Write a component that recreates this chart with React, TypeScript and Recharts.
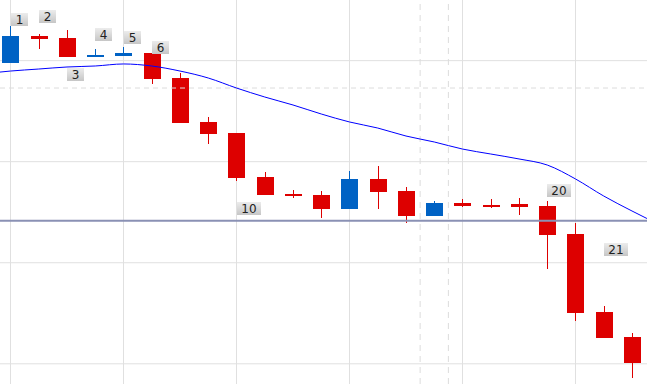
import React from 'react';
import { ComposedChart, Bar, Line, XAxis, YAxis, ReferenceLine, ReferenceDot, CartesianGrid } from 'recharts';

// candles, one per session, index 0..22
const opens = [129.77, 132.44, 132.24, 130.36, 130.46, 130.76, 128.28, 123.93, 122.84, 118.48, 116.8, 116.7, 115.32, 118.29, 117.1, 114.62, 115.91, 115.76, 115.81, 115.61, 112.84, 105.12, 102.65];
const highs = [133.43, 132.64, 133.03, 131.15, 131.35, 130.76, 128.78, 124.42, 122.84, 118.98, 117.2, 117.1, 119.08, 119.57, 117.49, 116.11, 116.31, 116.31, 116.41, 116.11, 113.93, 105.72, 103.05];
const lows = [129.77, 131.15, 130.36, 130.36, 130.46, 127.69, 123.83, 121.75, 118.09, 116.7, 116.41, 114.43, 115.32, 115.32, 113.93, 114.62, 115.52, 115.42, 114.72, 109.38, 104.23, 102.55, 98.59];
const closes = [132.44, 132.14, 130.36, 130.56, 130.76, 128.18, 123.83, 122.74, 118.39, 116.7, 116.6, 115.32, 118.29, 117.0, 114.62, 115.91, 115.61, 115.66, 115.52, 112.74, 105.03, 102.55, 100.08];

// moving average, index -1..23 (ends run off the visible area)
const maIndex = [-1, 0, 1, 2, 3, 4, 5, 6, 7, 8, 9, 10, 11, 12, 13, 14, 15, 16, 17, 18, 19, 20, 21, 22, 23];
const maValues = [128.68, 128.97, 129.17, 129.37, 129.47, 129.67, 129.47, 128.97, 128.28, 127.29, 126.4, 125.61, 124.72, 123.93, 123.33, 122.54, 121.95, 121.25, 120.76, 120.27, 119.67, 118.29, 116.6, 115.12, 113.73];

// numbered tags: index and price of their top-left corner
const tagTexts = ['1', '2', '3', '4', '5', '6', '10', '20', '21'];
const tagIndex = [0, 1, 2, 3, 4, 5, 8, 19, 21];
const tagPrice = [134.71, 135.01, 129.27, 133.23, 132.93, 131.94, 116.01, 117.79, 111.95];

const gridPrices = [100, 110, 120, 130];
const gridIndex = [0, 4, 8, 12, 16, 20];
const separatorIndex = [14.5, 15.5];
const dashedPrice = 127.29;
const levelPrice = 114.16;

const UP = '#0062c4';
const DOWN = '#dd0000';

const data = maIndex.map((i, k) => {
  const row: any = { i, ma: maValues[k] };
  if (i >= 0 && i < opens.length) {
    row.open = opens[i];
    row.high = highs[i];
    row.low = lows[i];
    row.close = closes[i];
  }
  return row;
});

const Candle = (props: any) => {
  const { x, y, width, height, payload } = props;
  if (payload == null || payload.open == null || !height) return <g />;
  const ppu = height / (payload.high - payload.low);
  const cx = Math.floor(x + width / 2);
  const top = Math.max(payload.open, payload.close);
  const bot = Math.min(payload.open, payload.close);
  const bodyTop = Math.round(y + (payload.high - top) * ppu);
  const bodyH = Math.max(2, Math.round((top - bot) * ppu));
  const color = payload.close >= payload.open ? UP : DOWN;
  return (
    <g>
      <rect x={cx} y={Math.round(y)} width={1} height={Math.round(height)} fill={color} />
      <rect x={cx - 8} y={bodyTop} width={17} height={bodyH} fill={color} />
    </g>
  );
};

const Tag = (props: any) => {
  const { cx, cy, text, gid } = props;
  const w = text.length > 1 ? 24 : 17;
  const h = 13;
  const x0 = Math.round(cx);
  const y0 = Math.round(cy);
  return (
    <g>
      <defs>
        <linearGradient id={gid} x1="0" y1="0" x2="0" y2="1">
          <stop offset="0%" stopColor="#ececec" />
          <stop offset="100%" stopColor="#c6c6c6" />
        </linearGradient>
      </defs>
      <rect x={x0} y={y0} width={w} height={h} fill={`url(#${gid})`} />
      <text
        x={x0 + w / 2}
        y={y0 + 11}
        textAnchor="middle"
        fontSize={12}
        fontFamily="'DejaVu Sans', sans-serif"
        fill="#222"
      >
        {text}
      </text>
    </g>
  );
};

export default function App() {
  return (
    <div style={{ position: 'absolute', left: 0, top: 0, width: 647, height: 384, background: '#fff', overflow: 'hidden' }}>
      <ComposedChart width={647} height={384} data={data} margin={{ top: 0, right: 0, bottom: 0, left: 0 }}>
        <XAxis dataKey="i" type="number" domain={[-0.372, 22.531]} allowDataOverflow hide />
        <YAxis type="number" domain={[98, 136]} allowDataOverflow hide />

        {/* background grid */}
        <CartesianGrid
          stroke="#e0e0e0"
          horizontalValues={gridPrices}
          verticalValues={gridIndex}
        />

        <Bar
          dataKey={(d: any) => (d.high == null ? null : [d.low, d.high])}
          barSize={17}
          shape={<Candle />}
          isAnimationActive={false}
        />

        {/* dashed guides and level drawn over the candles */}
        <ReferenceLine y={dashedPrice} stroke="#dcdcdc" strokeDasharray="5 4" />
        {separatorIndex.map((i) => (
          <ReferenceLine key={`s${i}`} x={i} stroke="#dcdcdc" strokeDasharray="6 5" />
        ))}
        <ReferenceLine y={levelPrice} stroke="#8a91b4" strokeWidth={2} />

        <Line
          dataKey="ma"
          type="monotone"
          stroke="#0000ff"
          strokeWidth={1}
          dot={false}
          activeDot={false}
          isAnimationActive={false}
        />

        {tagTexts.map((t, k) => (
          <ReferenceDot
            key={`t${k}`}
            x={tagIndex[k]}
            y={tagPrice[k]}
            ifOverflow="visible"
            shape={(p: any) => <Tag {...p} text={t} gid={`tg${k}`} />}
          />
        ))}
      </ComposedChart>
    </div>
  );
}
